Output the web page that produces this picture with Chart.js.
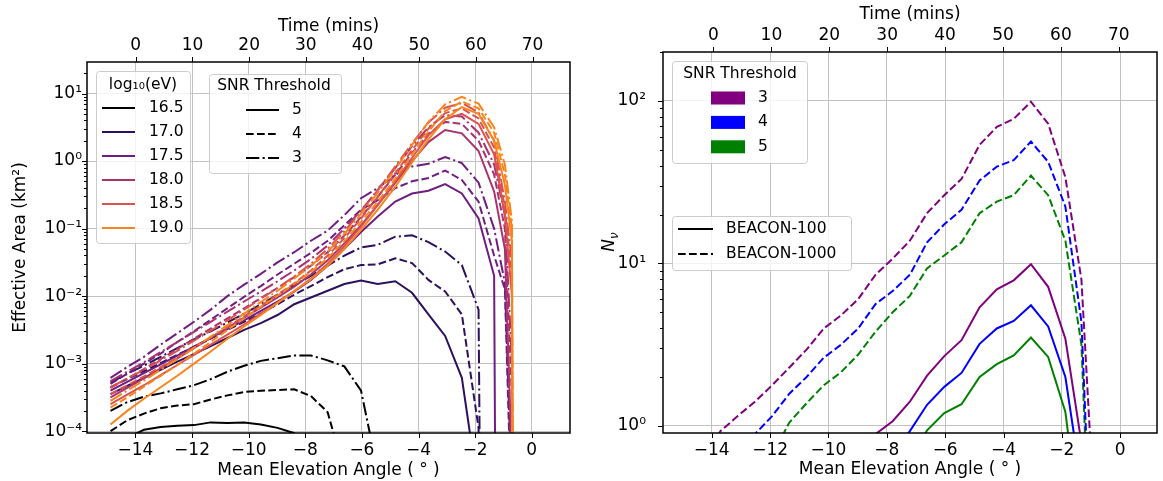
<!DOCTYPE html>
<html>
<head>
<meta charset="utf-8">
<script src="https://cdn.jsdelivr.net/npm/chart.js@4.4.1/dist/chart.umd.min.js"></script>
<style>
  html, body { margin: 0; padding: 0; background: #fff; }
  #wrap { position: relative; width: 1163px; height: 481px; }
  .panel { position: absolute; top: 0; height: 481px; }
  #left { left: 0; width: 580px; }
  #right { left: 580px; width: 583px; }
</style>
</head>
<body>
<div id="wrap">
  <div class="panel" id="left"><canvas id="areaChart"></canvas></div>
  <div class="panel" id="right"><canvas id="nuChart"></canvas></div>
</div>
<script>
// mean elevation angle (deg) of each sample
const angles = [-14.88, -14.29, -13.70, -13.11, -12.52, -11.93, -11.34, -10.75, -10.16, -9.57,
  -8.98, -8.39, -7.80, -7.21, -6.62, -6.03, -5.44, -4.82, -4.23, -3.65,
  -3.06, -2.47, -1.88, -1.33, -0.95, -0.70, -0.55];

const energyLabels = ['16.5', '17.0', '17.5', '18.0', '18.5', '19.0'];
const snrLevels = [5, 4, 3];
const xTicks = [-14, -12, -10, -8, -6, -4, -2, 0];
const timeTicks = [0, 10, 20, 30, 40, 50, 60, 70];

// effective area (km^2), log10(E/eV) x SNR threshold
const area165_snr5 = [3.98e-5, 7.94e-5, 1.05e-4, 1.15e-4, 1.2e-4, 1.23e-4, 1.35e-4, 1.32e-4, 1.35e-4, 1.26e-4, 1.12e-4, 9.33e-5, 3.98e-5, 1e-5, 1e-30, 1e-30, 1e-30, 1e-30, 1e-30, 1e-30, 1e-30, 1e-30, 1e-30, 1e-30, 1e-30, 1e-30, 1e-30];
const area165_snr4 = [1.0e-4, 1.45e-4, 1.82e-4, 2.19e-4, 2.4e-4, 2.51e-4, 2.95e-4, 3.39e-4, 3.8e-4, 3.98e-4, 4.07e-4, 4.17e-4, 3.31e-4, 1.91e-4, 2.51e-5, 1e-30, 1e-30, 1e-30, 1e-30, 1e-30, 1e-30, 1e-30, 1e-30, 1e-30, 1e-30, 1e-30, 1e-30];
const area165_snr3 = [2.0e-4, 2.69e-4, 3.24e-4, 3.63e-4, 4.17e-4, 4.79e-4, 5.89e-4, 7.59e-4, 9.33e-4, 1.1e-3, 1.2e-3, 1.32e-3, 1.32e-3, 1.12e-3, 9.12e-4, 3.98e-4, 2.51e-5, 1e-30, 1e-30, 1e-30, 1e-30, 1e-30, 1e-30, 1e-30, 1e-30, 1e-30, 1e-30];
const area170_snr5 = [3.55e-4, 4.68e-4, 6.17e-4, 8.13e-4, 1.07e-3, 1.38e-3, 1.82e-3, 2.4e-3, 3.16e-3, 3.98e-3, 5.25e-3, 7.59e-3, 9.55e-3, 1.2e-2, 1.51e-2, 1.7e-2, 1.51e-2, 1.66e-2, 1.12e-2, 5.37e-3, 2.57e-3, 6.17e-4, 1.26e-5, 1e-30, 1e-30, 1e-30, 1e-30];
const area170_snr4 = [4.47e-4, 5.89e-4, 7.76e-4, 1.02e-3, 1.35e-3, 1.78e-3, 2.34e-3, 3.16e-3, 4.17e-3, 5.5e-3, 7.59e-3, 1.05e-2, 1.41e-2, 1.91e-2, 2.51e-2, 2.88e-2, 2.95e-2, 3.63e-2, 3.09e-2, 1.74e-2, 1.17e-2, 5.37e-3, 1.12e-4, 1e-30, 1e-30, 1e-30, 1e-30];
const area170_snr3 = [5.25e-4, 7.08e-4, 9.33e-4, 1.26e-3, 1.7e-3, 2.29e-3, 3.02e-3, 4.07e-3, 5.5e-3, 7.59e-3, 1.05e-2, 1.45e-2, 2.0e-2, 2.82e-2, 3.98e-2, 5.25e-2, 5.75e-2, 7.59e-2, 7.94e-2, 6.31e-2, 4.57e-2, 2.88e-2, 6.31e-3, 1e-30, 1e-30, 1e-30, 1e-30];
const area175_snr5 = [3.98e-4, 5.37e-4, 7.24e-4, 9.77e-4, 1.32e-3, 1.78e-3, 2.4e-3, 3.24e-3, 4.37e-3, 6.03e-3, 8.32e-3, 1.17e-2, 1.74e-2, 2.82e-2, 5.01e-2, 8.91e-2, 0.151, 0.251, 0.331, 0.363, 0.457, 0.331, 0.141, 0.02, 1e-30, 1e-30, 1e-30];
const area175_snr4 = [5.01e-4, 7.08e-4, 1.0e-3, 1.41e-3, 2.09e-3, 3.02e-3, 4.47e-3, 6.61e-3, 9.77e-3, 1.41e-2, 2.09e-2, 3.02e-2, 4.37e-2, 6.61e-2, 0.112, 0.191, 0.263, 0.398, 0.501, 0.562, 0.724, 0.525, 0.251, 0.0398, 0.0126, 3.16e-6, 1e-30];
const area175_snr3 = [6.17e-4, 8.91e-4, 1.26e-3, 1.91e-3, 2.82e-3, 4.17e-3, 6.31e-3, 1.0e-2, 1.48e-2, 2.14e-2, 3.16e-2, 4.47e-2, 6.61e-2, 9.33e-2, 0.158, 0.282, 0.398, 0.631, 0.832, 0.912, 1.15, 0.933, 0.479, 0.1, 0.0158, 1e-5, 1e-30];
const area180_snr5 = [3.16e-4, 4.37e-4, 6.03e-4, 8.51e-4, 1.2e-3, 1.7e-3, 2.4e-3, 3.39e-3, 4.79e-3, 6.76e-3, 9.55e-3, 1.38e-2, 2.09e-2, 3.39e-2, 6.03e-2, 0.112, 0.224, 0.479, 1.0, 1.91, 2.88, 2.57, 1.41, 0.355, 0.0501, 3.16e-5, 1e-30];
const area180_snr4 = [4.37e-4, 6.03e-4, 8.32e-4, 1.17e-3, 1.66e-3, 2.34e-3, 3.31e-3, 4.68e-3, 6.61e-3, 9.33e-3, 1.32e-2, 1.91e-2, 2.82e-2, 4.47e-2, 7.94e-2, 0.148, 0.295, 0.631, 1.32, 2.51, 3.8, 3.55, 2.0, 0.631, 0.1, 3.16e-4, 1e-30];
const area180_snr3 = [5.5e-4, 7.59e-4, 1.05e-3, 1.48e-3, 2.09e-3, 2.95e-3, 4.17e-3, 5.89e-3, 8.32e-3, 1.17e-2, 1.66e-2, 2.4e-2, 3.55e-2, 5.62e-2, 0.1, 0.186, 0.372, 0.794, 1.66, 3.16, 4.79, 4.57, 2.63, 0.891, 0.158, 1e-3, 1e-30];
const area185_snr5 = [2.51e-4, 3.47e-4, 4.79e-4, 6.76e-4, 9.55e-4, 1.35e-3, 1.91e-3, 2.69e-3, 3.8e-3, 5.5e-3, 7.94e-3, 1.17e-2, 1.82e-2, 3.02e-2, 5.5e-2, 0.107, 0.224, 0.501, 1.12, 2.4, 4.17, 5.01, 3.55, 1.26, 0.158, 0.01, 1e-30];
const area185_snr4 = [3.55e-4, 4.79e-4, 6.46e-4, 8.91e-4, 1.23e-3, 1.74e-3, 2.45e-3, 3.47e-3, 5.01e-3, 7.24e-3, 1.05e-2, 1.55e-2, 2.4e-2, 3.98e-2, 7.24e-2, 0.141, 0.295, 0.661, 1.45, 3.02, 5.13, 6.03, 4.27, 1.58, 0.2, 0.02, 1e-30];
const area185_snr3 = [4.47e-4, 6.03e-4, 8.13e-4, 1.12e-3, 1.55e-3, 2.19e-3, 3.09e-3, 4.37e-3, 6.31e-3, 9.12e-3, 1.32e-2, 1.95e-2, 3.02e-2, 5.01e-2, 9.12e-2, 0.178, 0.372, 0.832, 1.82, 3.72, 6.17, 7.24, 5.25, 2.0, 0.251, 0.0316, 1e-30];
const area190_snr5 = [1.26e-4, 2.0e-4, 3.02e-4, 4.47e-4, 6.61e-4, 1.0e-3, 1.51e-3, 2.34e-3, 3.55e-3, 5.25e-3, 7.94e-3, 1.2e-2, 1.78e-2, 2.82e-2, 5.01e-2, 9.55e-2, 0.191, 0.417, 0.955, 2.09, 4.17, 6.31, 5.01, 2.0, 0.447, 0.0631, 1e-30];
const area190_snr4 = [2.24e-4, 3.16e-4, 4.57e-4, 6.61e-4, 9.55e-4, 1.41e-3, 2.09e-3, 3.16e-3, 4.68e-3, 6.92e-3, 1.02e-2, 1.51e-2, 2.29e-2, 3.63e-2, 6.46e-2, 0.126, 0.251, 0.55, 1.26, 2.75, 5.5, 7.59, 6.03, 2.63, 0.631, 0.1, 1e-30];
const area190_snr3 = [2.82e-4, 3.98e-4, 5.62e-4, 8.13e-4, 1.17e-3, 1.7e-3, 2.51e-3, 3.72e-3, 5.5e-3, 8.13e-3, 1.2e-2, 1.82e-2, 2.82e-2, 4.57e-2, 8.32e-2, 0.166, 0.339, 0.759, 1.74, 3.8, 6.92, 8.91, 7.08, 3.16, 0.891, 0.126, 1e-30];

// expected neutrino counts
const nuSnrLevels = [3, 4, 5];
const nu1000_snr3 = [0.32, 0.63, 0.93, 1.15, 1.41, 1.78, 2.29, 2.95, 3.98, 4.79, 6.03, 8.51, 10.7, 13.8, 20.4, 26.3, 33.1, 53.7, 69.2, 77.6, 98.9, 72.4, 33.9, 7.94, 0.46, 1e-3, 1e-3];
const nu1000_snr4 = [0.10, 0.16, 0.25, 0.45, 0.89, 1.15, 1.58, 2.0, 2.63, 3.16, 3.98, 5.62, 6.76, 8.51, 13.5, 17.4, 21.4, 32.4, 39.4, 43.2, 56.2, 42.2, 22.4, 4.37, 0.1, 1e-3, 1e-3];
const nu1000_snr5 = [0.032, 0.05, 0.079, 0.14, 0.28, 0.66, 1.05, 1.38, 1.78, 2.14, 2.75, 3.8, 5.01, 6.31, 9.33, 11.2, 13.5, 20.4, 24.0, 26.3, 34.7, 26.3, 13.8, 3.16, 0.063, 1e-3, 1e-3];
const nu100_snr3 = [0.032, 0.063, 0.093, 0.115, 0.141, 0.178, 0.229, 0.295, 0.40, 0.48, 0.60, 0.89, 1.07, 1.41, 2.04, 2.69, 3.37, 5.37, 6.92, 7.87, 9.89, 7.18, 3.44, 0.79, 0.046, 1e-4, 1e-4];
const nu100_snr4 = [0.01, 0.016, 0.025, 0.045, 0.089, 0.115, 0.158, 0.2, 0.263, 0.316, 0.40, 0.56, 0.676, 0.93, 1.35, 1.74, 2.12, 3.2, 3.98, 4.43, 5.53, 4.1, 2.0, 0.44, 0.01, 1e-4, 1e-4];
const nu100_snr5 = [0.003, 0.005, 0.008, 0.014, 0.028, 0.066, 0.105, 0.138, 0.178, 0.214, 0.275, 0.38, 0.5, 0.63, 0.94, 1.2, 1.36, 2.0, 2.4, 2.72, 3.5, 2.66, 1.22, 0.2, 0.005, 1e-4, 1e-4];

const areaTable = [
  [area165_snr5, area165_snr4, area165_snr3],
  [area170_snr5, area170_snr4, area170_snr3],
  [area175_snr5, area175_snr4, area175_snr3],
  [area180_snr5, area180_snr4, area180_snr3],
  [area185_snr5, area185_snr4, area185_snr3],
  [area190_snr5, area190_snr4, area190_snr3],
];
const energyColors = ['#000000', '#2c115f', '#6e1e80', '#a8336f', '#dc5250', '#f8851c'];
const snrDash = { 5: [], 4: [7.7, 3.3], 3: [13.3, 3.3, 2.1, 3.3] };
const nuColors = { 3: '#800080', 4: '#0000ff', 5: '#008000' };

const FONT = '"DejaVu Sans", sans-serif';
const GRID = '#c2c2c2';
Chart.defaults.font.family = FONT;
Chart.defaults.color = '#000';

const SUP = { '-': '\u207b', '0': '\u2070', '1': '\u00b9', '2': '\u00b2', '3': '\u00b3', '4': '\u2074', '5': '\u2075' };
function powLabel(v) {
  const e = Math.round(Math.log10(v));
  return '10' + String(e).split('').map(c => SUP[c]).join('');
}
function logTicks(lo, hi) {
  const out = [];
  for (let e = Math.floor(Math.log10(lo)); e <= Math.ceil(Math.log10(hi)); e++) {
    for (let m = 1; m <= 9; m++) {
      const v = m * Math.pow(10, e);
      if (v >= lo && v <= hi) out.push({ value: v, major: m === 1 });
    }
  }
  return out;
}
const minusFmt = v => (v < 0 ? '\u2212' + Math.abs(v) : String(v));
const pts = vals => vals.map((v, i) => ({ x: angles[i], y: v }));

function buildScales(cfg) {
  return {
    x: {
      type: 'linear', position: 'bottom', min: cfg.xMin, max: cfg.xMax,
      afterBuildTicks: s => { s.ticks = xTicks.map(v => ({ value: v })); },
      afterFit: s => { s.height = cfg.bottomH; },
      border: { display: false },
      grid: { color: GRID, lineWidth: 1, drawTicks: false },
      ticks: { callback: minusFmt, font: { size: 17 }, padding: 7, maxRotation: 0, autoSkip: false },
      title: { display: true, text: 'Mean Elevation Angle ( \u00b0 )', font: { size: 17 }, padding: { top: 0, bottom: cfg.xTitlePad } }
    },
    x2: {
      type: 'linear', position: 'top', min: cfg.tMin, max: cfg.tMax,
      afterBuildTicks: s => { s.ticks = timeTicks.map(v => ({ value: v })); },
      afterFit: s => { s.height = cfg.topH; },
      border: { display: false },
      grid: { drawOnChartArea: false, drawTicks: false },
      ticks: { font: { size: 17 }, padding: 6.5, maxRotation: 0, autoSkip: false },
      title: { display: true, text: 'Time (mins)', font: { size: 17 }, padding: { top: cfg.tTitlePad, bottom: 0 } }
    },
    y: {
      type: 'logarithmic', min: cfg.yMin, max: cfg.yMax,
      afterBuildTicks: s => { s.ticks = logTicks(cfg.yMin, cfg.yMax); },
      afterFit: s => { s.width = cfg.leftW; },
      border: { display: false },
      grid: {
        drawTicks: false, lineWidth: 1,
        color: c => (c.tick && c.tick.major ? GRID : 'rgba(0,0,0,0)')
      },
      ticks: {
        font: { size: 17 }, padding: cfg.yPad, autoSkip: false,
        callback: (v, i, ticks) => (ticks[i].major ? powLabel(v) : '')
      },
      title: { display: cfg.yTitle !== '', text: cfg.yTitle, font: { size: 17 }, padding: { top: 10, bottom: 0 } }
    }
  };
}

function drawAxesDecor(chart) {
  const { ctx, chartArea: a, scales } = chart;
  ctx.save();
  ctx.strokeStyle = '#000';
  ctx.lineWidth = 1;
  scales.y.ticks.forEach(t => {
    const p = Math.round(scales.y.getPixelForValue(t.value)) + 0.5;
    const len = t.major ? 5 : 3;
    ctx.beginPath(); ctx.moveTo(a.left - len, p); ctx.lineTo(a.left, p); ctx.stroke();
  });
  scales.x.ticks.forEach(t => {
    const p = Math.round(scales.x.getPixelForValue(t.value)) + 0.5;
    ctx.beginPath(); ctx.moveTo(p, a.bottom); ctx.lineTo(p, a.bottom + 5); ctx.stroke();
  });
  scales.x2.ticks.forEach(t => {
    const p = Math.round(scales.x2.getPixelForValue(t.value)) + 0.5;
    ctx.beginPath(); ctx.moveTo(p, a.top - 5); ctx.lineTo(p, a.top); ctx.stroke();
  });
  ctx.lineWidth = 1.5;
  ctx.strokeRect(a.left, a.top, a.right - a.left, a.bottom - a.top);
  ctx.restore();
}

function legendFrame(ctx, x0, y0, x1, y1) {
  ctx.save();
  ctx.beginPath();
  ctx.roundRect(x0 + 0.5, y0 + 0.5, x1 - x0, y1 - y0, 3);
  ctx.fillStyle = 'rgba(255,255,255,0.8)';
  ctx.fill();
  ctx.strokeStyle = '#cccccc';
  ctx.lineWidth = 1;
  ctx.stroke();
  ctx.restore();
}
function legendLine(ctx, x0, x1, y, color, dash) {
  ctx.save();
  ctx.strokeStyle = color;
  ctx.lineWidth = 2;
  ctx.setLineDash(dash);
  ctx.beginPath(); ctx.moveTo(x0, y); ctx.lineTo(x1, y); ctx.stroke();
  ctx.restore();
}
function legendText(ctx, text, x, y, align) {
  ctx.save();
  ctx.font = '15.5px ' + FONT;
  ctx.fillStyle = '#000';
  ctx.textAlign = align || 'left';
  ctx.textBaseline = 'middle';
  ctx.fillText(text, x, y);
  ctx.restore();
}

const areaDecor = {
  id: 'areaDecor',
  afterDraw(chart) {
    const ctx = chart.ctx;
    drawAxesDecor(chart);
    // energy legend
    legendFrame(ctx, 96, 71, 190, 243);
    legendText(ctx, 'log\u2081\u2080(eV)', 143, 85, 'center');
    const rows = [108, 132, 156, 180, 204, 228];
    energyLabels.forEach((lab, i) => {
      legendLine(ctx, 102, 135, rows[i], energyColors[i], []);
      legendText(ctx, lab, 149, rows[i]);
    });
    // SNR legend
    legendFrame(ctx, 209, 74, 341, 173);
    legendText(ctx, 'SNR Threshold', 274, 86, 'center');
    snrLevels.forEach((snr, i) => {
      const y = 110 + i * 24;
      legendLine(ctx, 246, 279, y, '#000', snrDash[snr]);
      legendText(ctx, String(snr), 292, y);
    });
  }
};

const nuDecor = {
  id: 'nuDecor',
  afterDraw(chart) {
    const ctx = chart.ctx;
    drawAxesDecor(chart);
    // y title N_nu
    ctx.save();
    ctx.translate(28, 242);
    ctx.rotate(-Math.PI / 2);
    ctx.fillStyle = '#000';
    ctx.font = 'italic 17px ' + FONT;
    const wN = ctx.measureText('N').width;
    ctx.font = 'italic 12px ' + FONT;
    const wNu = ctx.measureText('\u03bd').width;
    const x0 = -(wN + wNu) / 2;
    ctx.font = 'italic 17px ' + FONT;
    ctx.fillText('N', x0, 6);
    ctx.font = 'italic 12px ' + FONT;
    ctx.fillText('\u03bd', x0 + wN, 10);
    ctx.restore();
    // SNR colour legend
    legendFrame(ctx, 92, 61, 227, 163);
    legendText(ctx, 'SNR Threshold', 160, 74, 'center');
    nuSnrLevels.forEach((snr, i) => {
      const y = 98 + i * 24.4;
      ctx.fillStyle = nuColors[snr];
      ctx.fillRect(131, y - 6.5, 34, 13);
      legendText(ctx, String(snr), 178, y);
    });
    // detector legend
    legendFrame(ctx, 92, 216, 271, 270);
    legendLine(ctx, 98, 133, 229, '#000', []);
    legendText(ctx, 'BEACON-100', 146, 229);
    legendLine(ctx, 98, 133, 254, '#000', [7.7, 3.3]);
    legendText(ctx, 'BEACON-1000', 146, 254);
  }
};

// left panel: effective area
const areaDatasets = [];
areaTable.forEach((row, ei) => {
  row.forEach((vals, si) => {
    areaDatasets.push({
      label: energyLabels[ei] + ' / SNR ' + snrLevels[si],
      data: pts(vals),
      borderColor: energyColors[ei],
      borderWidth: 2,
      borderDash: snrDash[snrLevels[si]],
      pointRadius: 0,
      tension: 0,
      order: -(ei * 3 + si)
    });
  });
});

new Chart(document.getElementById('areaChart'), {
  type: 'line',
  data: { datasets: areaDatasets },
  options: {
    responsive: true, maintainAspectRatio: false, animation: false,
    parsing: false,
    layout: { padding: { left: 0, right: 10, top: 0, bottom: 0 } },
    plugins: { legend: { display: false }, tooltip: { enabled: false } },
    scales: buildScales({
      xMin: -15.71, xMax: 1.35, tMin: -8.6, tMax: 76.6,
      yMin: 9.4e-5, yMax: 29.3, leftW: 87, topH: 62, bottomH: 48,
      yPad: 5, yTitle: 'Effective Area (km\u00b2)', xTitlePad: 0, tTitlePad: 16.5
    })
  },
  plugins: [areaDecor]
});

// right panel: expected neutrino counts
const nuDatasets = [];
[[nu100_snr3, nu100_snr4, nu100_snr5], [nu1000_snr3, nu1000_snr4, nu1000_snr5]].forEach((group, gi) => {
  group.forEach((vals, si) => {
    const snr = nuSnrLevels[si];
    nuDatasets.push({
      label: (gi === 0 ? 'BEACON-100' : 'BEACON-1000') + ' / SNR ' + snr,
      data: pts(vals),
      borderColor: nuColors[snr],
      borderWidth: 2,
      borderDash: gi === 0 ? [] : [7.7, 3.3],
      pointRadius: 0,
      tension: 0
    });
  });
});

new Chart(document.getElementById('nuChart'), {
  type: 'line',
  data: { datasets: nuDatasets },
  options: {
    responsive: true, maintainAspectRatio: false, animation: false,
    parsing: false,
    layout: { padding: { left: 0, right: 6, top: 0, bottom: 0 } },
    plugins: { legend: { display: false }, tooltip: { enabled: false } },
    scales: buildScales({
      xMin: -15.67, xMax: 1.26, tMin: -8.72, tMax: 76.6,
      yMin: 0.905, yMax: 200, leftW: 83, topH: 52, bottomH: 48,
      yPad: 17, yTitle: '', xTitlePad: 1, tTitlePad: 4.8
    })
  },
  plugins: [nuDecor]
});
</script>
</body>
</html>
